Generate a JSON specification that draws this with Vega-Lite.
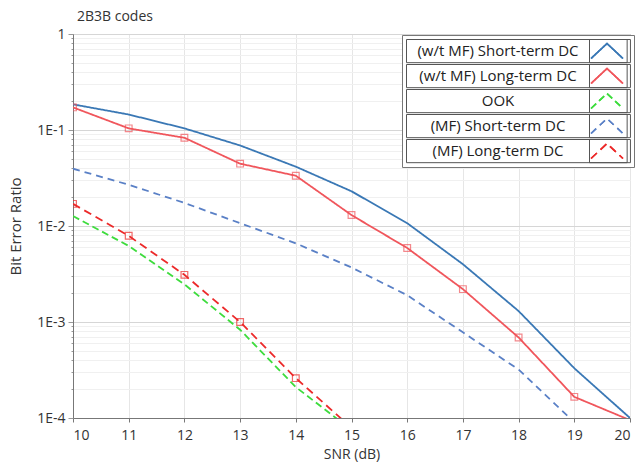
{
  "$schema": "https://vega.github.io/schema/vega-lite/v6.json",
  "width": 557,
  "height": 384,
  "autosize": {"type": "none"},
  "padding": {"left": 73, "top": 34, "right": 14, "bottom": 46},
  "background": "white",
  "title": {"text": "2B3B codes", "anchor": "start", "frame": "group", "dx": 4, "dy": -3, "offset": 0, "fontSize": 14, "fontWeight": "normal", "font": "Open Sans", "color": "#333333"},
  "config": {
    "view": {"stroke": "#a0a0a0", "strokeWidth": 1},
    "font": "Open Sans"
  },
  "data": {"values": [
    {"snr": 10, "ber": 0.185, "series": "(w/t MF) Short-term DC"},
    {"snr": 11, "ber": 0.145, "series": "(w/t MF) Short-term DC"},
    {"snr": 12, "ber": 0.104, "series": "(w/t MF) Short-term DC"},
    {"snr": 13, "ber": 0.069, "series": "(w/t MF) Short-term DC"},
    {"snr": 14, "ber": 0.0415, "series": "(w/t MF) Short-term DC"},
    {"snr": 15, "ber": 0.023, "series": "(w/t MF) Short-term DC"},
    {"snr": 16, "ber": 0.0107, "series": "(w/t MF) Short-term DC"},
    {"snr": 17, "ber": 0.004, "series": "(w/t MF) Short-term DC"},
    {"snr": 18, "ber": 0.0013, "series": "(w/t MF) Short-term DC"},
    {"snr": 19, "ber": 0.00033, "series": "(w/t MF) Short-term DC"},
    {"snr": 20, "ber": 0.0001, "series": "(w/t MF) Short-term DC"},
    {"snr": 10, "ber": 0.172, "series": "(w/t MF) Long-term DC"},
    {"snr": 11, "ber": 0.104, "series": "(w/t MF) Long-term DC"},
    {"snr": 12, "ber": 0.083, "series": "(w/t MF) Long-term DC"},
    {"snr": 13, "ber": 0.0446, "series": "(w/t MF) Long-term DC"},
    {"snr": 14, "ber": 0.0334, "series": "(w/t MF) Long-term DC"},
    {"snr": 15, "ber": 0.013, "series": "(w/t MF) Long-term DC"},
    {"snr": 16, "ber": 0.0059, "series": "(w/t MF) Long-term DC"},
    {"snr": 17, "ber": 0.0022, "series": "(w/t MF) Long-term DC"},
    {"snr": 18, "ber": 0.00069, "series": "(w/t MF) Long-term DC"},
    {"snr": 19, "ber": 0.000166, "series": "(w/t MF) Long-term DC"},
    {"snr": 20, "ber": 0.000095, "series": "(w/t MF) Long-term DC"},
    {"snr": 10, "ber": 0.0127, "series": "OOK"},
    {"snr": 11, "ber": 0.0062, "series": "OOK"},
    {"snr": 12, "ber": 0.00247, "series": "OOK"},
    {"snr": 13, "ber": 0.00083, "series": "OOK"},
    {"snr": 14, "ber": 0.00021, "series": "OOK"},
    {"snr": 15, "ber": 0.000075, "series": "OOK"},
    {"snr": 10, "ber": 0.0395, "series": "(MF) Short-term DC"},
    {"snr": 11, "ber": 0.0269, "series": "(MF) Short-term DC"},
    {"snr": 12, "ber": 0.0174, "series": "(MF) Short-term DC"},
    {"snr": 13, "ber": 0.0107, "series": "(MF) Short-term DC"},
    {"snr": 14, "ber": 0.0066, "series": "(MF) Short-term DC"},
    {"snr": 15, "ber": 0.0037, "series": "(MF) Short-term DC"},
    {"snr": 16, "ber": 0.0019, "series": "(MF) Short-term DC"},
    {"snr": 17, "ber": 0.00078, "series": "(MF) Short-term DC"},
    {"snr": 18, "ber": 0.00032, "series": "(MF) Short-term DC"},
    {"snr": 19, "ber": 0.00009, "series": "(MF) Short-term DC"},
    {"snr": 10, "ber": 0.017, "series": "(MF) Long-term DC"},
    {"snr": 11, "ber": 0.0079, "series": "(MF) Long-term DC"},
    {"snr": 12, "ber": 0.0031, "series": "(MF) Long-term DC"},
    {"snr": 13, "ber": 0.001, "series": "(MF) Long-term DC"},
    {"snr": 14, "ber": 0.00026, "series": "(MF) Long-term DC"},
    {"snr": 15, "ber": 0.000079, "series": "(MF) Long-term DC"}
  ]},
  "encoding": {
    "x": {"field": "snr", "type": "quantitative",
      "scale": {"domain": [10, 20], "nice": false, "zero": false},
      "axis": {"title": "SNR (dB)", "values": [10,11,12,13,14,15,16,17,18,19,20], "grid": true, "gridColor": "#e6e6e6",
        "domainColor": "#777777", "tickColor": "#777777", "tickSize": 4, "labelFontSize": 14, "labelColor": "#333333",
        "titleFontSize": 14, "titleFontWeight": "normal", "titleColor": "#333333", "titlePadding": 5, "labelPadding": 6, "labelFont": "Open Sans", "titleFont": "Open Sans"}},
    "y": {"field": "ber", "type": "quantitative",
      "scale": {"type": "log", "domain": [0.0001, 1], "nice": false},
      "axis": {"title": "Bit Error Ratio",
        "values": [0.0001,0.0002,0.0003,0.0004,0.0005,0.0006,0.0007,0.0008,0.0009,0.001,0.002,0.003,0.004,0.005,0.006,0.007,0.008,0.009,0.01,0.02,0.03,0.04,0.05,0.06,0.07,0.08,0.09,0.1,0.2,0.3,0.4,0.5,0.6,0.7,0.8,0.9,1],
        "labelExpr": "datum.value >= 0.999 ? '1' : (abs(log(datum.value)/LN10 - round(log(datum.value)/LN10)) < 0.001 ? '1E' + round(log(datum.value)/LN10) : '')",
        "grid": true,
        "gridColor": {"condition": {"test": "abs(log(datum.value)/LN10 - round(log(datum.value)/LN10)) < 0.001", "value": "#d6d6d6"}, "value": "#f0f0f0"},
        "tickSize": {"condition": {"test": "abs(log(datum.value)/LN10 - round(log(datum.value)/LN10)) < 0.001", "value": 5}, "value": 2},
        "domainColor": "#777777", "tickColor": "#999999", "labelFontSize": 14, "labelColor": "#333333", "labelPadding": 3,
        "titleFontSize": 15, "titleFontWeight": "normal", "titleColor": "#333333", "titlePadding": 13, "labelFont": "Open Sans", "titleFont": "Open Sans"}}
  },
  "layer": [
    {
      "mark": {"type": "line", "clip": true, "strokeWidth": 1.8},
      "encoding": {
        "color": {"field": "series", "type": "nominal",
          "sort": ["(w/t MF) Short-term DC", "(w/t MF) Long-term DC", "OOK", "(MF) Short-term DC", "(MF) Long-term DC"],
          "scale": {"range": ["#3a78b5", "#f0565c", "#3ddc3d", "#5a80c6", "#ec2a2a"]},
          "legend": {"title": null, "orient": "none", "legendX": 329, "legendY": 1, "zindex": 1,
            "symbolType": "M-1.45,0.68L0,-0.68L1.45,0.68M1.75,0.68L1.75,0.68", "symbolSize": 484, "symbolOffset": 189, "symbolStrokeWidth": 1.6,
            "labelAlign": "center", "labelOffset": -121,
            "labelFontSize": 15, "labelColor": "#222222", "labelFont": "Open Sans", "labelLimit": 300,
            "rowPadding": 1,
            "strokeColor": "#777777", "fillColor": "white", "padding": 4,
            "encode": {
              "symbols": {"update": {"strokeDash": {"scale": "strokeDash", "field": "value"}}},
              "entries": {"update": {"stroke": {"value": "#555555"}, "strokeWidth": {"value": 1}, "width": {"value": 181}, "height": {"value": 22}}}}}},
        "strokeDash": {"field": "series", "type": "nominal",
          "scale": {"domain": ["(w/t MF) Short-term DC", "(w/t MF) Long-term DC", "OOK", "(MF) Short-term DC", "(MF) Long-term DC"],
                    "range": [[1, 0], [1, 0], [7, 4], [7, 5], [8, 5]]},
          "legend": {"title": null, "orient": "none", "legendX": 516, "legendY": 5, "zindex": 2,
            "symbolType": "M-1.45,0.68L0,-0.68L1.45,0.68", "symbolSize": 484, "symbolStrokeWidth": 1.6, "symbolOffset": 6,
            "labelExpr": "''", "labelOffset": 0, "rowPadding": 1, "padding": 0,
            "encode": {
              "symbols": {"update": {"stroke": {"scale": "color", "field": "value"}}},
              "entries": {"update": {"stroke": {"value": "#555555"}, "strokeWidth": {"value": 1}, "width": {"value": 34}, "height": {"value": 22}}}}}}
      }
    },
    {
      "transform": [{"filter": "datum.series == '(w/t MF) Long-term DC' || datum.series == '(MF) Long-term DC'"}, {"filter": "datum.ber >= 0.0001"}],
      "mark": {"type": "point", "shape": "square", "filled": false, "size": 45, "strokeWidth": 1.2, "clip": true},
      "encoding": {
        "color": {"field": "series", "type": "nominal", "legend": null,
          "sort": ["(w/t MF) Short-term DC", "(w/t MF) Long-term DC", "OOK", "(MF) Short-term DC", "(MF) Long-term DC"]}
      }
    }
  ]
}
